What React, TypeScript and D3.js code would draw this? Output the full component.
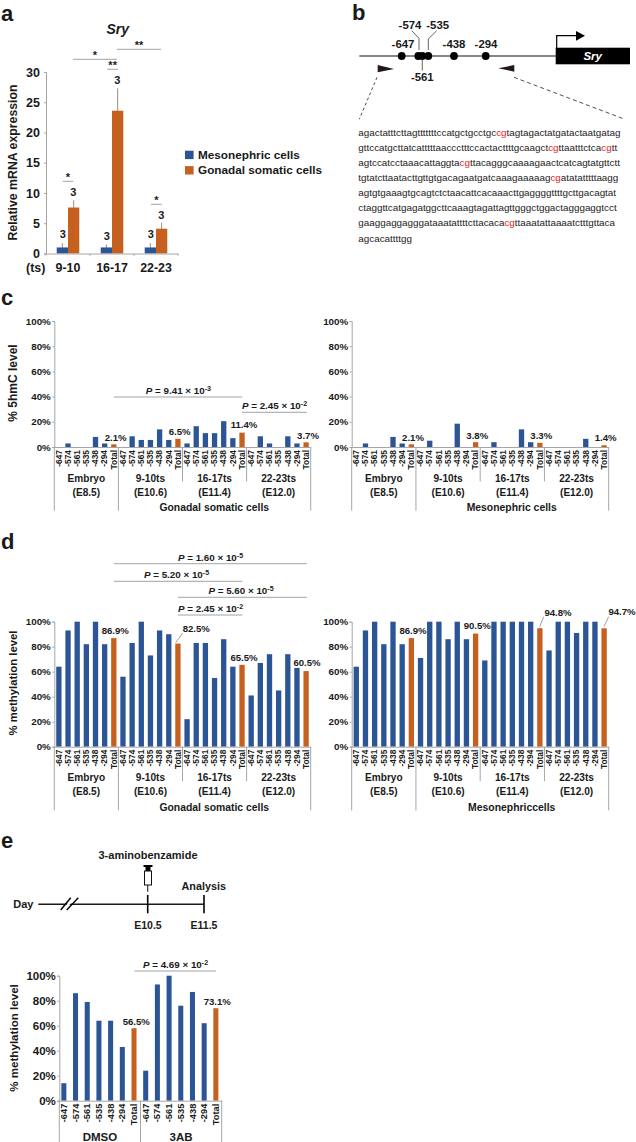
import * as d3 from "d3";
import { useEffect, useRef } from "react";

const FONT = "'Liberation Sans', Arial, sans-serif";
const BLUE = "#2c5596";
const ORANGE = "#c5601f";
const GRAY = "#a6a6a6";

// panel a
const tsGroups = ["9-10", "16-17", "22-23"];
const mesonephricExpr = [1, 1, 1];
const mesonephricErr = [1.7, 1.5, 1.7];
const gonadalExpr = [7.6, 23.6, 4.1];
const gonadalErr = [8.8, 27.3, 5.1];

// panels c, d, e
const cpgSites = ["-647", "-574", "-561", "-535", "-438", "-294", "Total"];
const stages = ["Embryo", "9-10ts", "16-17ts", "22-23ts"];
const stageDays = ["(E8.5)", "(E10.6)", "(E11.4)", "(E12.0)"];
const pcts = [0, 20, 40, 60, 80, 100];

const hmcGonadal = [
  0, 2.8, 0, 0, 8, 2.8, 2.1,
  0, 8.5, 5.6, 5.6, 14, 5.6, 6.5,
  2.8, 16.5, 11, 11, 20.5, 7, 11.4,
  0, 8.5, 2.8, 0, 8.5, 2.8, 3.7,
];
const hmcMeso = [
  0, 2.8, 0, 0, 8, 2.8, 2.1,
  0, 5, 0, 0, 18.5, 0, 3.8,
  0, 3.8, 0, 0, 14, 3.8, 3.3,
  0, 0, 0, 0, 6.5, 0, 1.4,
];
const metGonadal = [
  64, 93, 100, 82, 100, 82, 86.9,
  56, 83, 100, 73, 93, 90, 82.5,
  22, 83, 83, 55, 86, 64, 65.5,
  41, 67, 74, 45, 74, 63, 60.5,
];
const metMeso = [
  64, 93, 100, 82, 100, 82, 86.9,
  71, 100, 100, 86, 100, 86, 90.5,
  69, 100, 100, 100, 100, 100, 94.8,
  77, 100, 100, 91, 100, 100, 94.7,
];
const treatments = ["DMSO", "3AB"];
const metTreat = [
  14, 86, 79, 64, 64, 43, 58,
  24, 93, 100, 76, 87, 62, 74,
];

// panel b
const seqLines = [
  "agactatttcttagtttttttccatgctgcctgc[cg]tagtagactatgatactaatgatag",
  "gttccatgcttatcatttttaaccctttccactacttttgcaagct[cg]ttaatttctca[cg]tt",
  "agtccatcctaaacattaggta[cg]ttacagggcaaaagaactcatcagtatgttctt",
  "tgtatcttaatacttgttgtgacagaatgatcaaagaaaaag[cg]atatatttttaagg",
  "agtgtgaaagtgcagtctctaacattcacaaacttgaggggttttgcttgacagtat",
  "ctaggttcatgagatggcttcaaagtagattagttgggctggactagggaggtcct",
  "gaaggaggagggataaatattttcttacaca[cg]ttaaatattaaaatctttgttaca",
  "agcacattttgg",
];

type Sel = d3.Selection<SVGSVGElement, unknown, null, undefined>;

const label = (svg: Sel, str: string, x: number, y: number, size = 9.6, anchor = "middle", weight = "bold") =>
  svg.append("text")
    .attr("x", x).attr("y", y)
    .attr("font-size", size).attr("font-weight", weight)
    .attr("text-anchor", anchor).attr("fill", "#1a1a1a")
    .text(str);

const rule = (svg: Sel, x1: number, x2: number, y1: number, y2 = y1, color = "#8c8c8c", w = 0.8) =>
  svg.append("line")
    .attr("x1", x1).attr("x2", x2).attr("y1", y1).attr("y2", y2)
    .attr("stroke", color).attr("stroke-width", w);

// "P =  9.41 x 10-3" with the italic P and the raised exponent
const pValue = (svg: Sel, mant: string, exp: string, x: number, y: number, size = 9.8) => {
  const t = svg.append("text").attr("x", x).attr("y", y).attr("font-size", size)
    .attr("font-weight", "bold").attr("fill", "#1a1a1a").attr("text-anchor", "middle");
  t.append("tspan").attr("font-style", "italic").text("P");
  t.append("tspan").text(" =  " + mant + " × 10");
  t.append("tspan").attr("font-size", size * 0.72).attr("dy", -3).text(exp);
};

const yAxis = (svg: Sel, scale: d3.ScaleLinear<number, number>, x: number, size: number) => {
  const g = svg.append("g").attr("transform", `translate(${x},0)`)
    .call(d3.axisLeft(scale).tickValues(pcts).tickFormat((d) => d + "%").tickSize(2));
  g.selectAll("path,line").attr("stroke", GRAY);
  g.selectAll("text").attr("font-size", size).attr("font-weight", "bold")
    .attr("font-family", FONT).attr("fill", "#1a1a1a").attr("x", -3.5);
};

const siteBars = (
  svg: Sel, values: number[], x0: number, x1: number, yTop: number, yBot: number,
  tickSize: number, axisSize: number, padding: number, axisX = x0,
) => {
  const x = d3.scaleBand<number>().domain(d3.range(values.length)).range([x0, x1]).paddingInner(padding).paddingOuter(padding / 2);
  const y = d3.scaleLinear().domain([0, 100]).range([yBot, yTop]);
  const siteName = (i: number) => cpgSites[i % cpgSites.length];

  svg.append("g").selectAll("rect").data(values).enter().append("rect")
    .attr("x", (_, i) => x(i)!)
    .attr("width", x.bandwidth())
    .attr("y", (d) => y(d))
    .attr("height", (d) => yBot - y(d))
    .attr("fill", (_, i) => (siteName(i) === "Total" ? ORANGE : BLUE));

  yAxis(svg, y, axisX, axisSize);

  const xa = svg.append("g").attr("transform", `translate(0,${yBot})`)
    .call(d3.axisBottom(x).tickFormat((i) => siteName(i as number)).tickSize(0));
  xa.select("path").attr("stroke", GRAY);
  xa.selectAll("text")
    .attr("transform", "rotate(-90)")
    .attr("x", -3).attr("y", 0).attr("dy", "0.33em")
    .attr("text-anchor", "end").attr("font-size", tickSize)
    .attr("font-weight", "bold").attr("font-family", FONT).attr("fill", "#1a1a1a");
};

const stagePanel = (svg: Sel, values: number[], x0: number, x1: number, yTop: number, yBot: number, title: string) => {
  siteBars(svg, values, x0, x1, yTop, yBot, 8.4, 9.8, 0.42);
  const groups = d3.scaleBand<number>().domain(d3.range(stages.length)).range([x0, x1]);
  stages.forEach((s, i) => {
    const cx = groups(i)! + groups.bandwidth() / 2;
    label(svg, s, cx, yBot + 34.5, 10.1);
    label(svg, stageDays[i], cx, yBot + 48.5, 10.1);
  });
  label(svg, title, x0 + 160, yBot + 64.3, 10.4);
  [0, 1, 4].forEach((i) => rule(svg, groups(i) ?? x1, groups(i) ?? x1, yBot, yBot + 63.7, GRAY, 1));
  [2, 3].forEach((i) => rule(svg, groups(i)!, groups(i)!, yBot, yBot + 34.5, GRAY, 1));
};

const drawPanelA = (svg: Sel) => {
  label(svg, "a", 1, 21, 22, "start");
  const x = d3.scaleBand().domain(tsGroups).range([46, 178]);
  const y = d3.scaleLinear().domain([0, 30]).range([253.5, 72]);
  const inner = d3.scaleBand<number>().domain([0, 1]).range([0, x.bandwidth()]).paddingOuter(0.95).paddingInner(0);
  const series = [
    { vals: mesonephricExpr, errs: mesonephricErr, color: BLUE },
    { vals: gonadalExpr, errs: gonadalErr, color: ORANGE },
  ];
  series.forEach((s, k) => {
    const g = svg.append("g");
    const px = (i: number) => x(tsGroups[i])! + inner(k)!;
    g.selectAll("line").data(s.errs).enter().append("line")
      .attr("x1", (_, i) => px(i) + inner.bandwidth() / 2)
      .attr("x2", (_, i) => px(i) + inner.bandwidth() / 2)
      .attr("y1", (d) => y(d))
      .attr("y2", y(0))
      .attr("stroke", "#9a8f88").attr("stroke-width", 1);
    g.selectAll("rect").data(s.vals).enter().append("rect")
      .attr("x", (_, i) => px(i))
      .attr("width", inner.bandwidth())
      .attr("y", (d) => y(d))
      .attr("height", (d) => y(0) - y(d))
      .attr("fill", s.color);
  });
  const ya = svg.append("g").attr("transform", "translate(46,0)")
    .call(d3.axisLeft(y).tickValues([0, 5, 10, 15, 20, 25, 30]).tickSize(2));
  ya.selectAll("path,line").attr("stroke", GRAY);
  ya.selectAll("text").attr("font-size", 12.5).attr("font-weight", "bold")
    .attr("font-family", FONT).attr("fill", "#1a1a1a").attr("x", -6);
  const xa = svg.append("g").attr("transform", "translate(0,253.5)")
    .call(d3.axisBottom(x).tickValues([]).tickSize(0));
  xa.select("path").attr("stroke", GRAY);
  tsGroups.forEach((t) => {
    label(svg, t, x(t)! + x.bandwidth() / 2, 272, 12.4);
    rule(svg, x(t)!, x(t)!, 253.5, 256, GRAY);
  });
  rule(svg, 178, 178, 253.5, 256, GRAY);
  label(svg, "(ts)", 35.7, 272, 12.4);
  label(svg, "Relative mRNA expression", 0, 0, 12.3).attr("transform", "translate(17,162.5) rotate(-90)");
  label(svg, "Sry", 117.7, 33.5, 14).attr("font-style", "italic");

  ([[62.7, 238], [73.3, 196], [106.7, 240], [117.3, 84], [150.7, 238], [161.3, 218.5]] as const)
    .forEach(([a, b]) => label(svg, "3", a, b, 11));

  const sig: [number, number, number, string][] = [
    [73, 117, 59.3, "*"], [117, 161, 49.3, "**"], [107.3, 118, 69.3, "**"],
    [62.7, 73.3, 181.3, "*"], [151, 161.7, 204.3, "*"],
  ];
  sig.forEach(([a, b, c, s]) => {
    rule(svg, a, b, c);
    label(svg, s, (a + b) / 2, c - 0.5, 11);
  });

  const legend = [["Mesonephric cells", BLUE], ["Gonadal somatic cells", ORANGE]];
  legend.forEach(([t, c], i) => {
    svg.append("rect").attr("x", 185).attr("y", 150.7 + i * 15.4).attr("width", 8.6).attr("height", 8.4).attr("fill", c);
    label(svg, t, 198, 159 + i * 15.4, 11.75, "start");
  });
};

const drawPanelB = (svg: Sel) => {
  label(svg, "b", 352, 20, 22, "start");
  rule(svg, 359.3, 556.7, 56, 56, "#111", 1.2);
  [401.7, 418.3, 422.3, 428.3, 454, 485.7].forEach((cx) =>
    svg.append("circle").attr("cx", cx).attr("cy", 56).attr("r", 3.9).attr("fill", "#000"));
  const sites: [string, number, number][] = [
    ["-647", 403, 48], ["-574", 410, 29], ["-535", 437.7, 29],
    ["-438", 454, 48], ["-294", 486, 48], ["-561", 422.3, 80.5],
  ];
  sites.forEach(([s, a, b]) => label(svg, s, a, b, 11.4));
  const line = d3.line();
  const leaders: [number, number][][] = [
    [[419, 50], [419, 38.3], [411.7, 30.7]],
    [[428.3, 50], [428.3, 39], [436.7, 30.7]],
    [[422.3, 58], [422.3, 70.5]],
  ];
  leaders.forEach((p) => svg.append("path").attr("d", line(p)).attr("fill", "none").attr("stroke", "#222").attr("stroke-width", 0.7));
  svg.append("rect").attr("x", 555.7).attr("y", 47.7).attr("width", 74.3).attr("height", 16.6).attr("fill", "#000");
  label(svg, "Sry", 592.7, 60, 11.5).attr("fill", "#fff").attr("font-style", "italic");
  svg.append("path").attr("d", line([[556.7, 48], [556.7, 35.7], [577, 35.7]])).attr("fill", "none").attr("stroke", "#000").attr("stroke-width", 1.2);
  svg.append("path").attr("d", "M576,31L585,35.8L576,40.7Z").attr("fill", "#000");
  svg.append("path").attr("d", "M377.7,65L394,69L377.7,72.3Z").attr("fill", "#231815");
  svg.append("path").attr("d", "M514.3,65L498.3,68.3L514.3,71.7Z").attr("fill", "#231815");
  rule(svg, 377, 359.3, 77.3, 119.3, "#222", 0.8).attr("stroke-dasharray", "3,2.5");
  rule(svg, 514, 623.3, 77.3, 118.7, "#222", 0.8).attr("stroke-dasharray", "4,3");

  seqLines.forEach((ln, i) => {
    const t = svg.append("text").attr("x", 358.3).attr("y", 135.5 + i * 15.15)
      .attr("font-size", 9.85).attr("fill", "#222");
    ln.split(/(\[cg\])/).forEach((part) => {
      const isCg = part === "[cg]";
      t.append("tspan").attr("fill", isCg ? "#e0242a" : "#222").text(isCg ? "cg" : part);
    });
  });
};

const drawPanelC = (svg: Sel) => {
  label(svg, "c", 1, 305, 22, "start");
  stagePanel(svg, hmcGonadal, 54.3, 310.7, 321, 447, "Gonadal somatic cells");
  stagePanel(svg, hmcMeso, 351.7, 608.7, 321, 447, "Mesonephric cells");
  label(svg, "% 5hmC level", 0, 0, 12).attr("transform", "translate(16.5,383) rotate(-90)");
  ([["2.1%", 115.7, 441], ["6.5%", 179.7, 434.5], ["11.4%", 244, 428], ["3.7%", 308, 439],
    ["2.1%", 413, 441], ["3.8%", 477.3, 439], ["3.3%", 541.3, 439], ["1.4%", 605.7, 441]] as const)
    .forEach(([s, a, b]) => label(svg, s, a, b));
  rule(svg, 114, 242.3, 397);
  pValue(svg, "9.41", "-3", 178.4, 394);
  rule(svg, 242, 306.7, 412.3);
  pValue(svg, "2.45", "-2", 274.5, 409);
};

const drawPanelD = (svg: Sel) => {
  label(svg, "d", 1, 549, 22, "start");
  stagePanel(svg, metGonadal, 54.3, 310.7, 621.7, 746.7, "Gonadal somatic cells");
  stagePanel(svg, metMeso, 351.7, 608.7, 621.7, 746.7, "Mesonephriccells");
  label(svg, "% methylation level", 0, 0, 11.3).attr("transform", "translate(16.5,683) rotate(-90)");
  ([["86.9%", 115.3, 633.5], ["82.5%", 196.3, 632], ["65.5%", 244, 661], ["60.5%", 307, 666],
    ["86.9%", 413, 633.5], ["90.5%", 477.3, 628.5], ["94.8%", 558, 615.5], ["94.7%", 622, 615]] as const)
    .forEach(([s, a, b]) => label(svg, s, a, b));
  rule(svg, 175.7, 182.7, 642.7, 633, "#777", 0.7);
  rule(svg, 539.7, 543.7, 626.7, 616.7, "#777", 0.7);
  rule(svg, 604, 608.7, 626.7, 616.7, "#777", 0.7);
  rule(svg, 114, 306.7, 563.7);
  pValue(svg, "1.60", "-5", 210.5, 561);
  rule(svg, 114, 242.3, 581.3);
  pValue(svg, "5.20", "-5", 176.5, 578);
  rule(svg, 178, 306.7, 597.3);
  pValue(svg, "5.60", "-5", 241, 594);
  rule(svg, 178, 242.3, 615);
  pValue(svg, "2.45", "-2", 210.5, 611.5);
};

const drawPanelE = (svg: Sel) => {
  label(svg, "e", 1, 848, 22, "start");
  label(svg, "3-aminobenzamide", 148, 859, 11);
  label(svg, "Analysis", 203.7, 889.5, 10.8);
  label(svg, "Day", 23.3, 907.5, 11);
  label(svg, "E10.5", 148, 928.5, 10.5);
  label(svg, "E11.5", 204, 928.5, 10.5);
  rule(svg, 38.3, 204, 904.3, 904.3, "#231815", 1.5);
  rule(svg, 147.7, 147.7, 895, 913.3, "#000", 1.6);
  rule(svg, 204, 204, 895, 913.3, "#000", 1.6);
  svg.append("path").attr("d", "M63,909L73,897L76,897L66,909Z").attr("fill", "#fff");
  rule(svg, 60.7, 70.7, 910, 897.7, "#000", 1.4);
  rule(svg, 66.7, 78.3, 910, 897.7, "#000", 1.4);
  // syringe
  svg.append("rect").attr("x", 143.5).attr("y", 865).attr("width", 9).attr("height", 2).attr("fill", "#000");
  svg.append("rect").attr("x", 145.5).attr("y", 867).attr("width", 5).attr("height", 4).attr("fill", "#000");
  svg.append("rect").attr("x", 144.5).attr("y", 871).attr("width", 7).attr("height", 14).attr("fill", "#fff").attr("stroke", "#111").attr("stroke-width", 1);
  rule(svg, 147.7, 147.7, 885, 891.7, "#333", 1.2);

  siteBars(svg, metTreat, 58, 221.7, 975.7, 1100.7, 9.3, 11.5, 0.57, 59.3);
  const groups = d3.scaleBand<number>().domain(d3.range(treatments.length)).range([59.3, 221.7]);
  treatments.forEach((t, i) => label(svg, t, groups(i)! + groups.bandwidth() / 2, 1140.5, 11.5));
  [0, 1, 2].forEach((i) => {
    const px = groups(i) ?? 221.7;
    rule(svg, px, px, 1100.7, 1142, GRAY, 1);
  });
  label(svg, "% methylation level", 0, 0, 11.6).attr("transform", "translate(18,1038) rotate(-90)");
  label(svg, "56.5%", 136.3, 1025);
  label(svg, "73.1%", 217.3, 1005);
  rule(svg, 134.3, 216, 971);
  pValue(svg, "4.69", "-2", 175.5, 968);
};

const App = () => {
  const ref = useRef<SVGSVGElement>(null);

  useEffect(() => {
    const svg = d3.select(ref.current!) as Sel;
    svg.selectAll("*").remove();
    drawPanelA(svg);
    drawPanelB(svg);
    drawPanelC(svg);
    drawPanelD(svg);
    drawPanelE(svg);
  }, []);

  return (
    <svg
      ref={ref}
      width={636}
      height={1142}
      style={{ position: "absolute", left: 0, top: 0, background: "#fff", fontFamily: FONT }}
    />
  );
};

export default App;
